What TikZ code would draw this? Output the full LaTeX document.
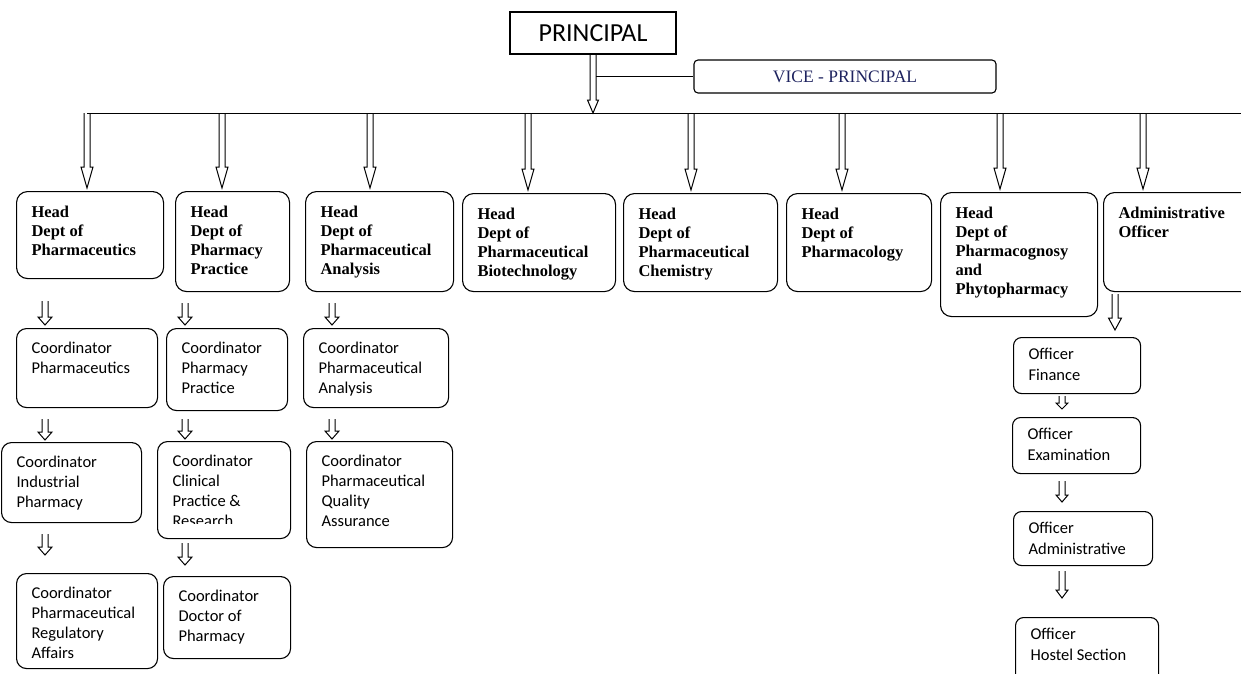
\documentclass[tikz,border=0pt]{standalone}
\usepackage{fontspec}
\setmainfont{Liberation Serif}
\newfontfamily\calfont{Carlito}
\usepackage{tikz}
\usetikzlibrary{calc}

\definecolor{vpblue}{RGB}{30,35,95}
\newcommand\boxtop{14pt}
% hollow block arrow: [head half width]{start}{tip}{head length}
\newcommand\harrow[4][7]{%
  \draw[hollowarr] let \p1=#2, \p2=#3 in
    (\x1-3pt,\y1) -- (\x1-3pt,\y2+#4pt) -- (\x1-#1pt,\y2+#4pt) -- (\x1,\y2)
    -- (\x1+#1pt,\y2+#4pt) -- (\x1+3pt,\y2+#4pt) -- (\x1+3pt,\y1);}
% box with text at its top left: [style]{name}{x}{y}{width}{height}{text}
\newcommand\orgbox[7][]{%
  \node[#1,minimum width=#5pt,minimum height=#6pt] (#2) at (#3,#4)
    {\parbox[c][#6pt][t]{#5pt}{\raggedright\leftskip=15pt\vspace*{\boxtop}#7}};}

\begin{document}
\begin{tikzpicture}[x=1pt,y=-1pt,
  boxtop/.code={\def\boxtop{#1}},
  box/.style={draw,line width=1.1pt,inner sep=0pt,anchor=north west},
  headbox/.style={box,rounded corners=11pt,font=\fontsize{16.5}{19}\selectfont\bfseries,boxtop=14pt},
  coordbox/.style={box,rounded corners=10pt,font=\calfont\fontsize{16.5}{20.3}\selectfont,boxtop=13pt},
  offbox/.style={box,rounded corners=8pt,font=\calfont\fontsize{16.5}{20.8}\selectfont,boxtop=11pt},
  hollowarr/.style={line width=1pt,line join=miter},
  conn/.style={line width=1pt}]
\useasboundingbox (0,0) rectangle (1241,673);

% top
\node[draw,line width=1.1pt,minimum width=166pt,minimum height=42pt,inner sep=0pt,
  font=\calfont\fontsize{26}{30}\selectfont] (pr) at (593,33) {PRINCIPAL};
\node[draw,rounded corners=4pt,line width=1.1pt,minimum width=302pt,minimum height=33pt,
  inner sep=0pt,font=\fontsize{17.5}{20}\selectfont,text=vpblue] (vp) at (845,76.5) {VICE - PRINCIPAL};
\coordinate (bus) at (87,113);
\coordinate (busend) at (1241,113);
\draw[conn] (bus) -- (busend);
\draw[conn] ([xshift=3pt]pr.south |- vp.west) -- (vp.west);
\harrow[5.5]{(pr.south)}{(pr.south |- bus)}{13}

% heads of department
\orgbox[headbox]{h1}{16}{191}{147}{87}{Head\\Dept of\\Pharmaceutics}
\orgbox[headbox]{h2}{175}{191}{114}{100}{Head\\Dept of\\Pharmacy\\Practice}
\orgbox[headbox]{h3}{305}{191}{148}{100}{Head\\Dept of\\Pharmaceutical\\Analysis}
\orgbox[headbox]{h4}{462}{193}{153}{98}{Head\\Dept of\\Pharmaceutical\\Biotechnology}
\orgbox[headbox]{h5}{623}{193}{154}{98}{Head\\Dept of\\Pharmaceutical\\Chemistry}
\orgbox[headbox]{h6}{786}{193}{145}{98}{Head\\Dept of\\Pharmacology}
\orgbox[headbox]{h7}{940}{192}{157}{124}{Head\\Dept of\\Pharmacognosy\\and\\Phytopharmacy}
\orgbox[headbox]{h8}{1103}{192}{160}{99}{Administrative\\Officer}
\foreach \hn/\bx in {h1/87,h2/222,h3/370,h4/528,h5/691,h6/842,h7/1000,h8/1143}
  \harrow[6]{(\bx,0 |- bus)}{($(\bx,0 |- \hn.north)+(0,-3)$)}{21};

% coordinators
\orgbox[coordbox]{c1}{16}{328}{141}{79}{Coordinator\\Pharmaceutics}
\orgbox[coordbox]{c2}{1}{442}{140}{80}{Coordinator\\Industrial\\Pharmacy}
\orgbox[coordbox]{c3}{16}{573}{141}{95}{Coordinator\\Pharmaceutical\\Regulatory\\Affairs}
\orgbox[coordbox]{d1}{166}{328}{121}{82}{Coordinator\\Pharmacy\\Practice}
\orgbox[coordbox]{d2}{157}{441}{133}{97}{}
\begin{scope}
  \clip (157,441) rectangle (290,523);
  \orgbox[coordbox,draw=none]{d2t}{157}{441}{133}{97}{Coordinator\\Clinical\\Practice \&\\Research}
\end{scope}
\orgbox[coordbox]{d3}{163}{576}{127}{82}{Coordinator\\Doctor of\\Pharmacy}
\orgbox[coordbox]{e1}{303}{328}{145}{79}{Coordinator\\Pharmaceutical\\Analysis}
\orgbox[coordbox]{e2}{306}{441}{146}{106}{Coordinator\\Pharmaceutical\\Quality\\Assurance}

\coordinate (ax1) at (45,0);
\coordinate (ax2) at (185,0);
\coordinate (ax3) at (332,0);
\harrow{($(h1.south -| ax1)+(0,22)$)}{($(c1.north -| ax1)+(0,-3)$)}{8}
\harrow{($(c1.south -| ax1)+(0,11)$)}{($(c2.north -| ax1)+(0,-2)$)}{8}
\harrow{($(c2.south -| ax1)+(0,11)$)}{($(c3.north -| ax1)+(0,-18)$)}{8}
\harrow{($(h2.south -| ax2)+(0,11)$)}{($(d1.north -| ax2)+(0,-3)$)}{8}
\harrow{($(d1.south -| ax2)+(0,8)$)}{($(d2.north -| ax2)+(0,-2)$)}{8}
\harrow{($(d2.south -| ax2)+(0,4)$)}{($(d3.north -| ax2)+(0,-11)$)}{8}
\harrow{($(h3.south -| ax3)+(0,11)$)}{($(e1.north -| ax3)+(0,-3)$)}{8}
\harrow{($(e1.south -| ax3)+(0,11)$)}{($(e2.north -| ax3)+(0,-2)$)}{8}

% officers
\orgbox[offbox]{o1}{1013}{337}{127}{56}{Officer\\Finance}
\orgbox[offbox]{o2}{1012}{417}{128}{56}{Officer\\Examination}
\orgbox[offbox]{o3}{1013}{511}{139}{54}{Officer\\Administrative}
\orgbox[offbox]{o4}{1015}{617}{143}{70}{Officer\\Hostel Section}
\coordinate (axa) at (1115,0);
\coordinate (axo) at (1062,0);
\harrow[6.5]{($(h8.south -| axa)+(0,2)$)}{($(o1.north -| axa)+(0,-7)$)}{12}
\harrow[6]{($(o1.south -| axo)+(0,2)$)}{($(o2.north -| axo)+(0,-8)$)}{6}
\harrow[6]{($(o2.south -| axo)+(0,7)$)}{($(o3.north -| axo)+(0,-9)$)}{7}
\harrow[6]{($(o3.south -| axo)+(0,5)$)}{($(o4.north -| axo)+(0,-19)$)}{8}
\end{tikzpicture}
\end{document}
